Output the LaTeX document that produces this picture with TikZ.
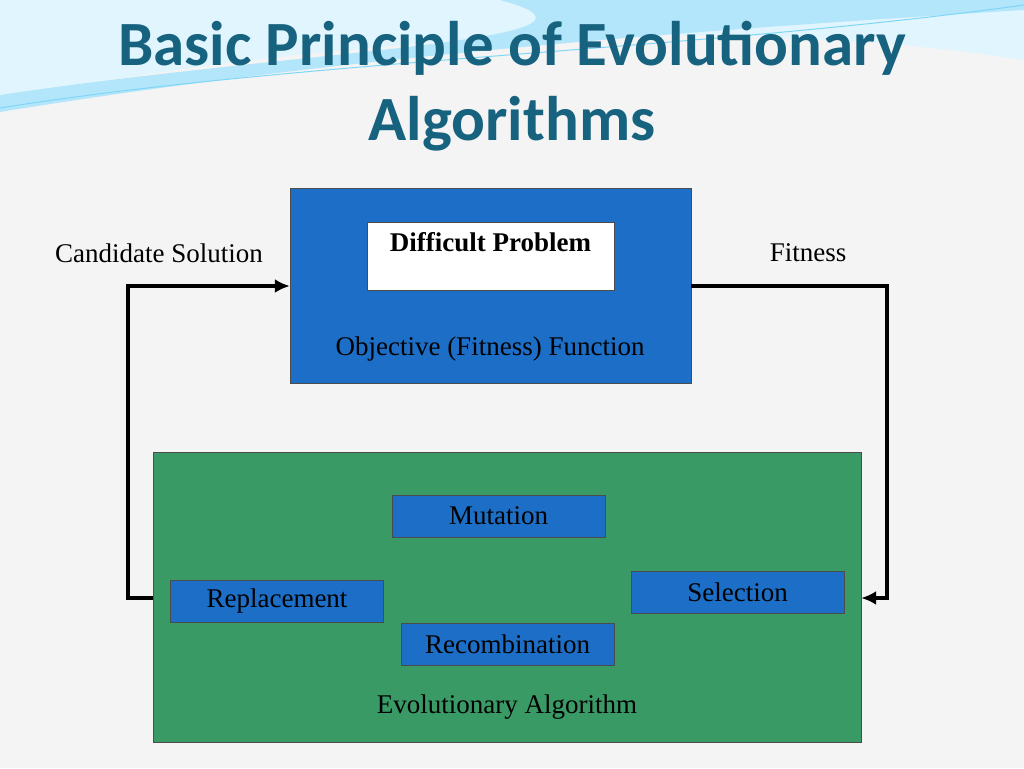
\documentclass[tikz,border=0pt]{standalone}
\usepackage{fontspec}
\usetikzlibrary{arrows.meta}
\setmainfont{Liberation Serif}
\newfontfamily\titlefont{Carlito}
\begin{document}
\begin{tikzpicture}[x=1pt,y=-1pt,
  lbl/.style={font=\fontsize{27}{30}\selectfont},
  op/.style={draw=black!70,fill=blue1,minimum width=213pt,minimum height=42pt,font=\fontsize{27}{30}\selectfont},
  conn/.style={line width=3.5pt,-{Latex[length=15pt,width=14pt]}}]
\definecolor{blue1}{HTML}{1C6EC6}
\definecolor{green1}{HTML}{3A9A66}
\definecolor{titlec}{HTML}{17627F}
\definecolor{bgc}{HTML}{F4F4F4}
\fill[bgc] (0,0) rectangle (1024,768);
\useasboundingbox (0,0) rectangle (1024,768);
\fill[cyan!12] (0,100) .. controls (300,40) and (700,10) .. (1024,60) -- (1024,0) -- (0,0) -- cycle;
\fill[cyan!30] (0,112) .. controls (350,55) and (700,30) .. (1024,10) -- (1024,0) -- (500,0) .. controls (650,40) and (300,50) .. (0,95) -- cycle;
\draw[cyan!50,line width=1pt] (0,108) .. controls (300,60) and (700,50) .. (1024,5);
\node[titlec,font=\titlefont\bfseries\fontsize{63}{66}\selectfont] (t1) at (512,48) {Basic Principle of Evolutionary};
\node[titlec,font=\titlefont\bfseries\fontsize{63}{66}\selectfont] (t2) at (512,124) {Algorithms};
\node[draw=black!70,fill=blue1,minimum width=401pt,minimum height=195pt] (obj) at (490.5,285.5) {};
\node[draw=black!70,fill=white,minimum width=247pt,minimum height=68pt] (dp) at (490.5,256) {};
\node[lbl,font=\bfseries\fontsize{27}{30}\selectfont] (dpt) at (490.5,242) {Difficult Problem};
\node[lbl] (objt) at (490,349) {Objective (Fitness) Function};
\node[draw=black!70,fill=green1,minimum width=708pt,minimum height=290pt] (ea) at (507,597) {};
\node[op] (mut) at (498.5,516) {Mutation};
\node[op] (rep) at (277,601) {Replacement};
\node[op] (sel) at (737.5,592.5) {Selection};
\node[op] (rec) at (507.5,644) {Recombination};
\node[lbl] (eat) at (507,707) {Evolutionary Algorithm};
\node[lbl] (cs) at (159,253) {Candidate Solution};
\node[lbl] (fit) at (808,253) {Fitness};
\coordinate (a1) at (128,598); \coordinate (a2) at (128,286);
\coordinate (b1) at (887,286); \coordinate (b2) at (887,598);
\draw[conn] (ea.west |- a1) -- (a1) -- (a2) -- (obj.west |- a2);
\draw[conn] (obj.east |- b1) -- (b1) -- (b2) -- (ea.east |- b2);
\end{tikzpicture}
\end{document}
